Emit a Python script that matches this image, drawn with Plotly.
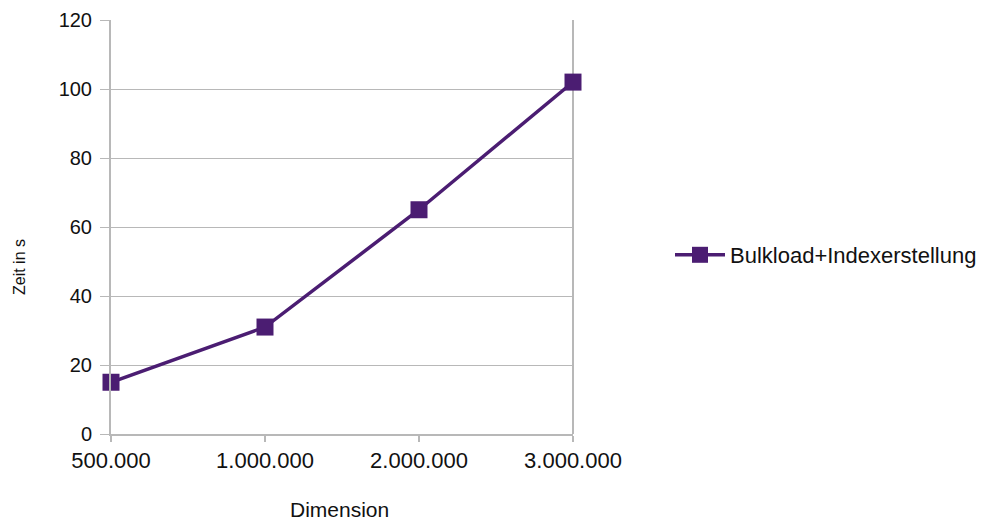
import plotly.graph_objects as go

categories = ["500.000", "1.000.000", "2.000.000", "3.000.000"]
values = [15, 31, 65, 102]
series_name = "Bulkload+Indexerstellung"
y_ticks = [0, 20, 40, 60, 80, 100, 120]

color = "#4b1d72"
grid = "#b8b8b8"

fig = go.Figure()
fig.add_trace(go.Scatter(
    x=categories, y=values, name=series_name, mode="lines+markers",
    line=dict(color=color, width=3.5),
    marker=dict(symbol="square", size=17, color=color),
    cliponaxis=False,
))

pw = 984 - 111 - 411
ph = 524 - 20 - 90

fig.update_layout(
    width=984, height=524,
    margin=dict(l=111, r=411, t=20, b=90, autoexpand=False),
    paper_bgcolor="white", plot_bgcolor="white",
    font=dict(family="Liberation Sans, Arial, sans-serif", size=20, color="#111111"),
    showlegend=True,
    legend=dict(x=(670 - 111) / pw, y=(434 - 255) / ph, xanchor="left", yanchor="middle",
                itemwidth=50,
                font=dict(size=22, color="#111111"), bgcolor="rgba(0,0,0,0)"),
    xaxis=dict(type="category", range=[0, 3], showgrid=False,
               showline=True, linecolor=grid, linewidth=2,
               ticks="outside", ticklen=6, tickcolor=grid, tickwidth=2,
               zeroline=False, tickfont=dict(size=22)),
    yaxis=dict(range=[0, 120], tickvals=y_ticks, showgrid=True, gridcolor=grid, gridwidth=1,
               showline=True, linecolor=grid, linewidth=2, mirror=False,
               ticks="outside", ticklen=9, tickcolor=grid, tickwidth=1,
               ticklabelstandoff=4,
               zeroline=False, tickfont=dict(size=20)),
    annotations=[
        dict(text="Zeit in s", xref="paper", yref="paper",
             x=(19 - 111) / pw, y=(434 - 267) / ph, xanchor="center", yanchor="middle",
             showarrow=False, textangle=-90, font=dict(size=16)),
        dict(text="Dimension", xref="paper", yref="paper",
             x=(339 - 111) / pw, y=(434 - 510) / ph, xanchor="center", yanchor="middle",
             showarrow=False, font=dict(size=21)),
    ],
)
fig.add_shape(type="line", xref="paper", yref="paper", x0=1, x1=1, y0=0, y1=1,
              line=dict(color=grid, width=2), layer="below")

fig.write_html("out.html")
